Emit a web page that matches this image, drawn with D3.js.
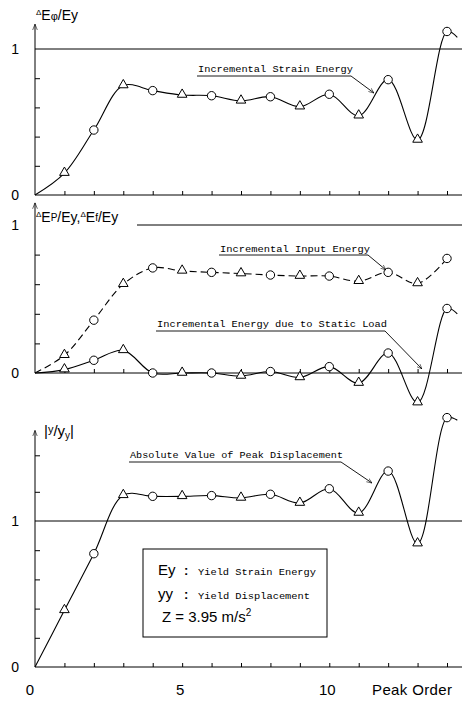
<!DOCTYPE html>
<html>
<head>
<meta charset="utf-8">
<script src="https://cdn.jsdelivr.net/npm/d3@7"></script>
<style>
  body { margin: 0; background: #fff; }
  svg { display: block; }
  .mono { font-family: "Liberation Mono", "DejaVu Sans Mono", monospace; }
  .sans { font-family: "Liberation Sans", Arial, sans-serif; }
</style>
</head>
<body>
<div id="chart"></div>
<script>
// peak order 0..14
const peaks = [0, 1, 2, 3, 4, 5, 6, 7, 8, 9, 10, 11, 12, 13, 14]
const strainEnergy = [0, 0.15, 0.445, 0.75, 0.715, 0.685, 0.68, 0.645, 0.673, 0.605, 0.69, 0.543, 0.79, 0.377, 1.12]
const inputEnergy = [0, 0.12, 0.357, 0.60, 0.71, 0.69, 0.68, 0.672, 0.662, 0.655, 0.655, 0.62, 0.68, 0.605, 0.774]
const staticEnergy = [0, 0.023, 0.086, 0.153, 0, 0, 0, -0.02, 0.01, -0.03, 0.043, -0.068, 0.135, -0.20, 0.436]
const peakDisp = [0, 0.388, 0.776, 1.176, 1.169, 1.169, 1.174, 1.158, 1.183, 1.123, 1.221, 1.055, 1.342, 0.845, 1.708]
// curve tails after last peak
const tailX = 14.35
const tails = { strain: 1.08, input: null, stat: 0.40, disp: 1.69 }
const xLabels = [0, 5, 10]

const W = 467, H = 703

const svg = d3.select("#chart").append("svg")
  .attr("width", W).attr("height", H)

const x = d3.scaleLinear().domain([0, 14]).range([35, 447])
const xEnd = 462

// arrow marker for leader lines
svg.append("defs").append("marker")
  .attr("id", "arr")
  .attr("viewBox", "0 0 10 10")
  .attr("refX", 10).attr("refY", 5)
  .attr("markerWidth", 6).attr("markerHeight", 6)
  .attr("orient", "auto")
  .append("path").attr("d", "M0,1 L10,5 L0,9").attr("fill", "none").attr("stroke", "#000")

// three panels, each its own y scale
const panels = [
  { y: d3.scaleLinear().domain([0, 1]).range([195, 49]), top: 1.17, ticks: [0.2, 0.4, 0.6, 0.8], oneFrom: 35 },
  { y: d3.scaleLinear().domain([0, 1]).range([373, 225]), top: 1.15, ticks: [0.2, 0.4, 0.6, 0.8], oneFrom: 137 },
  { y: d3.scaleLinear().domain([0, 1]).range([667, 521]), top: 1.62, ticks: [0.2, 0.4, 0.6, 0.8, 1.2, 1.45], oneFrom: 35 }
]

panels.forEach(p => {
  const g = svg.append("g")
  // x axis with inward ticks
  g.append("g")
    .attr("transform", "translate(0," + p.y(0) + ")")
    .call(d3.axisTop(x).tickValues(peaks.slice(1)).tickSize(4).tickFormat(""))
    .call(a => a.select(".domain").attr("d", "M" + x(0) + ",0H" + xEnd))
  // y axis with inward ticks
  g.append("g")
    .attr("transform", "translate(" + x(0) + ",0)")
    .call(d3.axisRight(p.y).tickValues(p.ticks).tickSize(5).tickFormat(""))
    .call(a => a.select(".domain").attr("d", "M0," + p.y(0) + "V" + p.y(p.top))
      .attr("marker-end", "url(#arr)"))
  g.selectAll("path, line").attr("stroke", "#000").attr("stroke-width", 1)
  // y = 1 reference line
  g.append("line")
    .attr("x1", p.oneFrom).attr("x2", xEnd)
    .attr("y1", p.y(1)).attr("y2", p.y(1))
    .attr("stroke", "#000").attr("stroke-width", 1)
  // 0 and 1 labels
  g.selectAll("text.yl").data([0, 1]).enter().append("text")
    .attr("class", "sans")
    .attr("x", 19).attr("y", d => p.y(d) + 5)
    .attr("text-anchor", "end")
    .attr("font-size", 14)
    .text(d => d)
})

const line = (sc, vals, tail, dashed) => {
  let pts = peaks.map((d, i) => [x(d), sc(vals[i])])
  if (tail != null) pts.push([x(tailX), sc(tail)])
  svg.append("path")
    .attr("d", d3.line().curve(d3.curveCatmullRom.alpha(0.5))(pts))
    .attr("fill", "none").attr("stroke", "#000").attr("stroke-width", 1.1)
    .attr("stroke-dasharray", dashed ? "7,4" : null)
}

const markers = (sc, vals) => {
  const g = svg.append("g")
  peaks.forEach((d, i) => {
    if (i == 0) return
    const cx = x(d), cy = sc(vals[i])
    if (i % 2 == 1) {
      g.append("path")
        .attr("d", d3.symbol(d3.symbolTriangle, 40)())
        .attr("transform", "translate(" + cx + "," + (cy - 0.5) + ")")
        .attr("fill", "#fff").attr("stroke", "#000").attr("stroke-width", 1)
    } else {
      g.append("circle").attr("cx", cx).attr("cy", cy).attr("r", 4.2)
        .attr("fill", "#fff").attr("stroke", "#000").attr("stroke-width", 1)
    }
  })
}

const [p1, p2, p3] = panels
line(p1.y, strainEnergy, tails.strain)
markers(p1.y, strainEnergy)
line(p2.y, inputEnergy, tails.input, true)
markers(p2.y, inputEnergy)
line(p2.y, staticEnergy, tails.stat)
markers(p2.y, staticEnergy)
line(p3.y, peakDisp, tails.disp)
markers(p3.y, peakDisp)

// annotations with underline + leader
const note = (txt, x0, x1, ty, uy, lx, ly) => {
  svg.append("text").attr("class", "mono")
    .attr("x", x0).attr("y", ty)
    .attr("font-size", 9.5)
    .attr("textLength", x1 - x0).attr("lengthAdjust", "spacingAndGlyphs")
    .text(txt)
  svg.append("path")
    .attr("d", "M" + (x0 - 1) + "," + uy + "H" + (x1 - 2) + "L" + lx + "," + ly)
    .attr("fill", "none").attr("stroke", "#000").attr("stroke-width", 0.9)
    .attr("marker-end", "url(#arr)")
}
note("Incremental Strain Energy", 198, 353, 72, 76, 374, 93)
note("Incremental Input Energy", 220, 370, 252, 255, 386, 270)
note("Incremental Energy due to Static Load", 157, 387, 327, 331, 422, 369)
note("Absolute Value of Peak Displacement", 130, 343, 458, 462, 372, 483)

// y axis titles
const t1 = svg.append("text").attr("class", "sans").attr("x", 36).attr("y", 20).attr("font-size", 14)
t1.append("tspan").attr("font-size", 8).attr("dy", -5).text("Δ")
t1.append("tspan").attr("dy", 5).text("E")
t1.append("tspan").attr("font-size", 11).text("φ")
t1.append("tspan").text("/Ey")

const t2 = svg.append("text").attr("class", "sans").attr("x", 36).attr("y", 222).attr("font-size", 14)
t2.append("tspan").attr("font-size", 8).attr("dy", -5).text("Δ")
t2.append("tspan").attr("dy", 5).text("E")
t2.append("tspan").attr("font-size", 10).attr("dy", -1).text("P")
t2.append("tspan").attr("dy", 1).text("/Ey,")
t2.append("tspan").attr("font-size", 8).attr("dy", -5).text("Δ")
t2.append("tspan").attr("dy", 5).text("E")
t2.append("tspan").attr("font-size", 10).attr("dy", -1).text("f")
t2.append("tspan").attr("dy", 1).text("/Ey")

const t3 = svg.append("text").attr("class", "sans").attr("x", 44).attr("y", 436).attr("font-size", 15)
t3.append("tspan").text("|")
t3.append("tspan").attr("font-size", 11).attr("dy", -3).text("y")
t3.append("tspan").attr("dy", 3).text("/y")
t3.append("tspan").attr("font-size", 10).attr("dy", 3).text("y")
t3.append("tspan").attr("dy", -3).text("|")

// x tick labels at the bottom
svg.append("g").selectAll("text").data(xLabels).enter().append("text")
  .attr("class", "sans")
  .attr("x", d => x(d) - (d == 0 ? 5 : 2)).attr("y", 695)
  .attr("text-anchor", "middle").attr("font-size", 15)
  .text(d => d)
svg.append("text").attr("class", "sans")
  .attr("x", 372).attr("y", 695).attr("font-size", 15)
  .attr("textLength", 80)
  .text("Peak Order")

// legend box
svg.append("rect")
  .attr("x", 143).attr("y", 549).attr("width", 184).attr("height", 88)
  .attr("fill", "#fff").attr("stroke", "#000").attr("stroke-width", 1)
const lg = [
  { sym: "Ey", desc: "Yield Strain Energy", y: 575, w: 118 },
  { sym: "yy", desc: "Yield Displacement", y: 599, w: 112 }
]
lg.forEach(d => {
  svg.append("text").attr("class", "sans").attr("x", 158).attr("y", d.y)
    .attr("font-size", 15).text(d.sym)
  svg.append("text").attr("class", "sans").attr("x", 184).attr("y", d.y)
    .attr("font-size", 13).attr("font-weight", "bold").text(":")
  svg.append("text").attr("class", "mono").attr("x", 198).attr("y", d.y)
    .attr("font-size", 9.5)
    .attr("textLength", d.w).attr("lengthAdjust", "spacingAndGlyphs")
    .text(d.desc)
})
const z = svg.append("text").attr("class", "sans").attr("x", 162).attr("y", 622).attr("font-size", 15)
z.append("tspan").text("Z = 3.95 m/s")
z.append("tspan").attr("font-size", 10).attr("dy", -6).text("2")
</script>
</body>
</html>
